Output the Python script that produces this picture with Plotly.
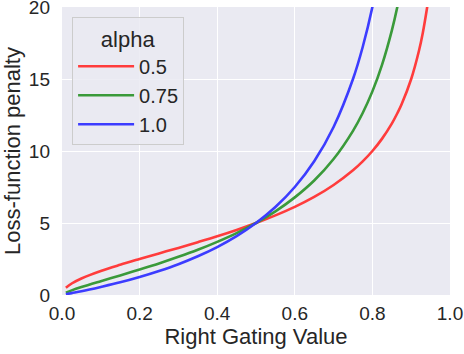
import plotly.graph_objects as go

# values
gate = [0.01, 0.025, 0.05, 0.1, 0.15, 0.2, 0.25, 0.3, 0.35, 0.4, 0.45, 0.5,
        0.55, 0.6, 0.65, 0.7, 0.75, 0.775, 0.8, 0.825, 0.85, 0.865, 0.875,
        0.9, 0.92, 0.93, 0.94, 0.945]
pen_05 = [0.50, 0.80, 1.15, 1.67, 2.10, 2.50, 2.89, 3.27, 3.67, 4.08, 4.52, 5.00,
          5.53, 6.12, 6.81, 7.64, 8.66, 9.28, 10.00, 10.86, 11.90, 12.66, 13.23,
          15.00, 16.96, 18.22, 19.79, 20.7]
pen_075 = [0.16, 0.32, 0.55, 0.96, 1.36, 1.77, 2.19, 2.65, 3.14, 3.69, 4.30, 5.00,
           5.81, 6.78, 7.95, 9.44, 11.40, 12.64, 14.14, 16.00, 18.36, 20.1, 21.5]
pen_10 = [0.05, 0.13, 0.26, 0.56, 0.88, 1.25, 1.67, 2.14, 2.69, 3.33, 4.09, 5.00,
          6.11, 7.50, 9.29, 11.67, 15.00, 17.22, 20.00, 23.6]

labels = ['0.5', '0.75', '1.0']
colors = ['#FF3C3C', '#3A9A3A', '#3C3CFF']
series = [pen_05, pen_075, pen_10]

fig = go.Figure()
for lab, col, ys in zip(labels, colors, series):
    fig.add_trace(go.Scatter(x=gate[:len(ys)], y=ys, name=lab, mode='lines',
                             line=dict(color=col, width=2.6, shape='spline')))

font = 'Liberation Sans, Arial, sans-serif'
fig.update_layout(
    width=464, height=354,
    margin=dict(l=62, r=14, t=7, b=59),
    paper_bgcolor='white', plot_bgcolor='#EAEAF2',
    font=dict(family=font, color='#262626', size=19),
    xaxis=dict(range=[0, 1], dtick=0.2, tickformat='.1f', showgrid=True,
               gridcolor='white', gridwidth=1.3, zeroline=False, showline=False,
               ticks='', ticklabelstandoff=5, automargin=False,
               ticklabeloverflow='allow',
               title=dict(text='Right Gating Value', font=dict(size=22), standoff=4)),
    yaxis=dict(range=[0, 20], dtick=5, showgrid=True, gridcolor='white',
               gridwidth=1.3, zeroline=False, showline=False, ticks='',
               ticklabelstandoff=11, automargin=False,
               ticklabeloverflow='allow',
               title=dict(text='Loss-function penalty', font=dict(size=22), standoff=4)),
    legend=dict(x=0.026, y=0.965, xanchor='left', yanchor='top',
                bgcolor='rgba(234,234,242,0.85)', bordercolor='#CCCCCC', borderwidth=1,
                font=dict(size=20), itemwidth=56, tracegroupgap=0,
                title=dict(text='alpha', side='top center', font=dict(size=22))),
    showlegend=True,
)

# drop the page's default body margin so the figure sits at the window's corner
fig.write_html('out.html', config=dict(displayModeBar=False),
               post_script="document.body.style.margin='0';")
